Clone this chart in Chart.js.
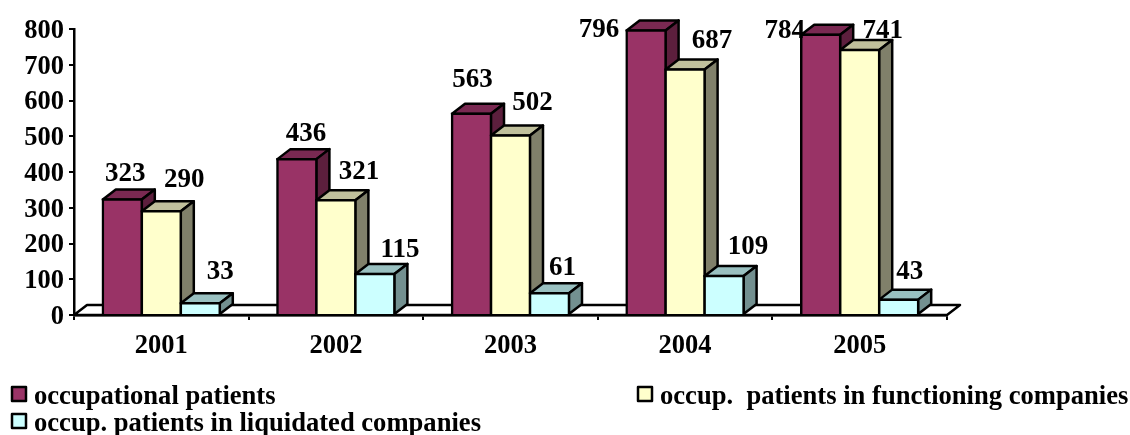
<!DOCTYPE html>
<html>
<head>
<meta charset="utf-8">
<title>Occupational patients</title>
<script src="https://cdn.jsdelivr.net/npm/chart.js@4/dist/chart.umd.min.js"></script>
<style>
    html, body { margin: 0; padding: 0; background: #fff; }
    #wrap { width: 1130px; height: 435px; }
</style>
</head>
<body>
<div id="wrap"><canvas id="grafico" width="1130" height="435"></canvas></div>
<script>
const categories = ['2001', '2002', '2003', '2004', '2005'];
const occupational = [323, 436, 563, 796, 784];
const functioning = [290, 321, 502, 687, 741];
const liquidated = [33, 115, 61, 109, 43];
const seriesNames = [
    'occupational patients',
    'occup.  patients in functioning companies',
    'occup. patients in liquidated companies'
];

// label nudges from the top of each bar
const labelOffsets = [
    [[3, -25], [9, -25], [1, -34], [-47, 0], [-36, -4]],
    [[23, -31], [23, -28], [22, -33], [27, -28], [23, -19]],
    [[20, -31], [25, -24], [13, -25], [24, -29], [11, -28]]
];
const FONT = '"Liberation Serif", "Times New Roman", serif';
const DEPTH_X = 13, DEPTH_Y = 10;
const LINE = 2.5;
const faces = [
    { front: '#993366', top: '#7a2952', side: '#5c1f3d' },
    { front: '#ffffcc', top: '#c0c09c', side: '#80806a' },
    { front: '#ccffff', top: '#99c0c0', side: '#739090' }
];

function poly(ctx, pts, fill) {
    ctx.beginPath();
    pts.forEach((p, i) => i ? ctx.lineTo(p[0], p[1]) : ctx.moveTo(p[0], p[1]));
    ctx.closePath();
    if (fill) { ctx.fillStyle = fill; ctx.fill(); }
    ctx.strokeStyle = '#000';
    ctx.lineWidth = LINE;
    ctx.lineJoin = 'round';
    ctx.stroke();
}

const caixa3d = {
    id: 'caixa3d',
    beforeDatasetsDraw(chart) {
        const ctx = chart.ctx;
        const { left, right, bottom } = chart.chartArea;
        // floor
        poly(ctx, [[left, bottom], [left + DEPTH_X, bottom - DEPTH_Y], [right + DEPTH_X, bottom - DEPTH_Y], [right, bottom]], '#fff');

        // left to right, so each bar covers the side of the previous one
        chart.data.datasets.forEach((ds, i) => {
            const meta = chart.getDatasetMeta(i);
            meta.data.forEach(bar => {
                const { x, y, width, base } = bar.getProps(['x', 'y', 'width', 'base']);
                const l = x - width / 2, r = x + width / 2;
                poly(ctx, [[l, y], [l + DEPTH_X, y - DEPTH_Y], [r + DEPTH_X, y - DEPTH_Y], [r, y]], faces[i].top);
                poly(ctx, [[r, y], [r + DEPTH_X, y - DEPTH_Y], [r + DEPTH_X, base - DEPTH_Y], [r, base]], faces[i].side);
            });
            meta.controller.draw();
        });
        return false;
    },
    afterDraw(chart) {
        const ctx = chart.ctx;
        ctx.save();
        ctx.fillStyle = '#000';
        ctx.textBaseline = 'middle';

        // value labels
        ctx.font = 'bold 27px ' + FONT;
        ctx.textAlign = 'center';
        chart.data.datasets.forEach((ds, i) => {
            chart.getDatasetMeta(i).data.forEach((bar, j) => {
                const off = labelOffsets[i][j];
                ctx.fillText(String(ds.data[j]), bar.x + off[0], bar.y + off[1]);
            });
        });

        // legend
        const slots = [[11, 386], [637, 386], [11, 413]];
        ctx.textAlign = 'left';
        ctx.font = 'bold 26.6px ' + FONT;
        seriesNames.forEach((nome, i) => {
            const s = slots[i];
            ctx.fillStyle = faces[i].front;
            ctx.strokeStyle = '#000';
            ctx.lineWidth = LINE;
            ctx.fillRect(s[0] + 1, s[1] + 1, 14, 14);
            ctx.strokeRect(s[0] + 1, s[1] + 1, 14, 14);
            ctx.fillStyle = '#000';
            ctx.fillText(nome, s[0] + 23, s[1] + 11);
        });
        ctx.restore();
    }
};

const fontTicks = { family: FONT, size: 26.5, weight: 'bold' };
const barDefaults = { borderColor: '#000', borderWidth: LINE, inflateAmount: 1.25, categoryPercentage: 0.67, barPercentage: 1 };

new Chart(document.getElementById('grafico'), {
    type: 'bar',
    data: {
        labels: categories,
        datasets: [
            { label: seriesNames[0], data: occupational, backgroundColor: faces[0].front, ...barDefaults },
            { label: seriesNames[1], data: functioning, backgroundColor: faces[1].front, ...barDefaults },
            { label: seriesNames[2], data: liquidated, backgroundColor: faces[2].front, ...barDefaults }
        ]
    },
    options: {
        responsive: false,
        animation: false,
        layout: { padding: { top: 29, right: 183, left: 0, bottom: 0 } },
        plugins: { legend: { display: false }, tooltip: { enabled: false } },
        scales: {
            x: {
                afterFit: s => { s.height = 120; },
                border: { color: '#000', width: LINE },
                grid: { drawOnChartArea: false, color: '#000', lineWidth: 2, tickLength: 5 },
                ticks: { color: '#000', font: fontTicks, padding: 10, maxRotation: 0 }
            },
            y: {
                min: 0,
                max: 800,
                afterFit: s => { s.width = 74; },
                border: { color: '#000', width: LINE },
                grid: { drawOnChartArea: false, color: '#000', lineWidth: 2, tickLength: 5 },
                ticks: { color: '#000', font: fontTicks, stepSize: 100, padding: 5, labelOffset: 2 }
            }
        }
    },
    plugins: [caixa3d]
});
</script>
</body>
</html>
